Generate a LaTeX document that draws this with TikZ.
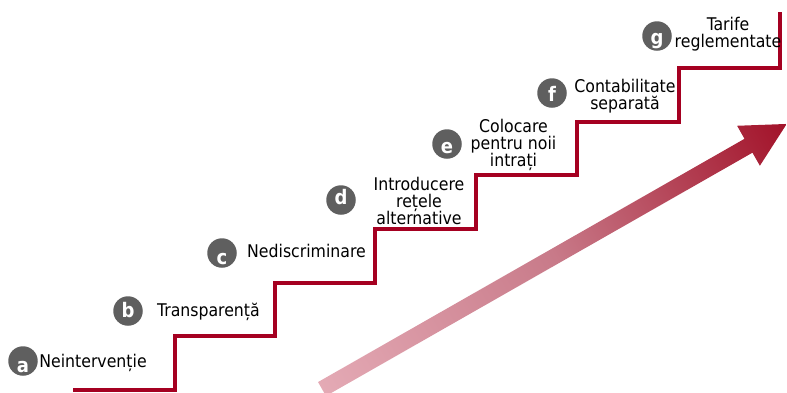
\documentclass[tikz,border=0pt]{standalone}
\usepackage{fontspec}
\newfontfamily\stepfont{DejaVu Sans Condensed}
\definecolor{stairred}{HTML}{A50021}
\definecolor{badgegray}{HTML}{5F5F5F}
\definecolor{arrowpink}{HTML}{E4AAB5}
\definecolor{arrowmid}{HTML}{C87A89}
\definecolor{arrowred}{HTML}{A21229}
% letter inside a badge: baseline lowered by #1 pt below the circle centre
\newcommand\badgeletter[2]{\raisebox{-#1pt}[0pt][0pt]{#2}}
\begin{document}
\begin{tikzpicture}[x=1pt,y=-1pt,
  stair/.style={draw=stairred, line width=4pt, line join=miter},
  badge/.style={circle, fill=badgegray, minimum size=29.5pt, inner sep=0pt,
    text=white, font={\stepfont\bfseries\fontsize{20}{20}\selectfont}},
  steplabel/.style={inner sep=0pt, align=center,
    font={\stepfont\fontsize{17.5}{17}\selectfont\lineskiplimit=-20pt}}]
\useasboundingbox (0,0) rectangle (787,392);

% rising arrow with a pink-to-red gradient
\begin{scope}[transform canvas={shift={(322,389)}, rotate=29.7}]
  \shade[left color=arrowpink, right color=arrowred, middle color=arrowmid]
    (0,-8) -- (491,-8) -- (491,-23) -- (535,0) -- (491,23) -- (491,8) -- (0,8) -- cycle;
\end{scope}

% staircase
\draw[stair] (73,390) -- (175,390) -- (175,336) -- (275,336) -- (275,283)
  -- (375,283) -- (375,229) -- (476,229) -- (476,175) -- (577,175)
  -- (577,122) -- (679,122) -- (679,68) -- (780,68) -- (780,12);

% step badges
\node[badge] (ba) at (23,361) {\badgeletter{11}{a}};
\node[badge] (bb) at (128,311) {\badgeletter{6}{b}};
\node[badge] (bc) at (222,253) {\badgeletter{11}{c}};
\node[badge] (bd) at (341,200) {\badgeletter{4}{d}};
\node[badge] (be) at (447,144) {\badgeletter{9}{e}};
\node[badge] (bf) at (552,93) {\badgeletter{8}{f}};
\node[badge] (bg) at (657,36) {\badgeletter{8}{g}};

% step labels
\node[steplabel, anchor=base] (la) at (93,367) {Neintervenție};
\node[steplabel, anchor=base] (lb) at (208.5,316.7) {Transparență};
\node[steplabel, anchor=base] (lc) at (306.5,257) {Nediscriminare};
\node[steplabel] (ld) at (419,201.3) {Introducere\\rețele\\alternative};
\node[steplabel] (le) at (513.5,144.8) {Colocare\\pentru noii\\intrați};
\node[steplabel] (lf) at (625,95.9) {Contabilitate\\separată};
\node[steplabel] (lg) at (728,34.2) {Tarife\\reglementate};
\end{tikzpicture}
\end{document}
